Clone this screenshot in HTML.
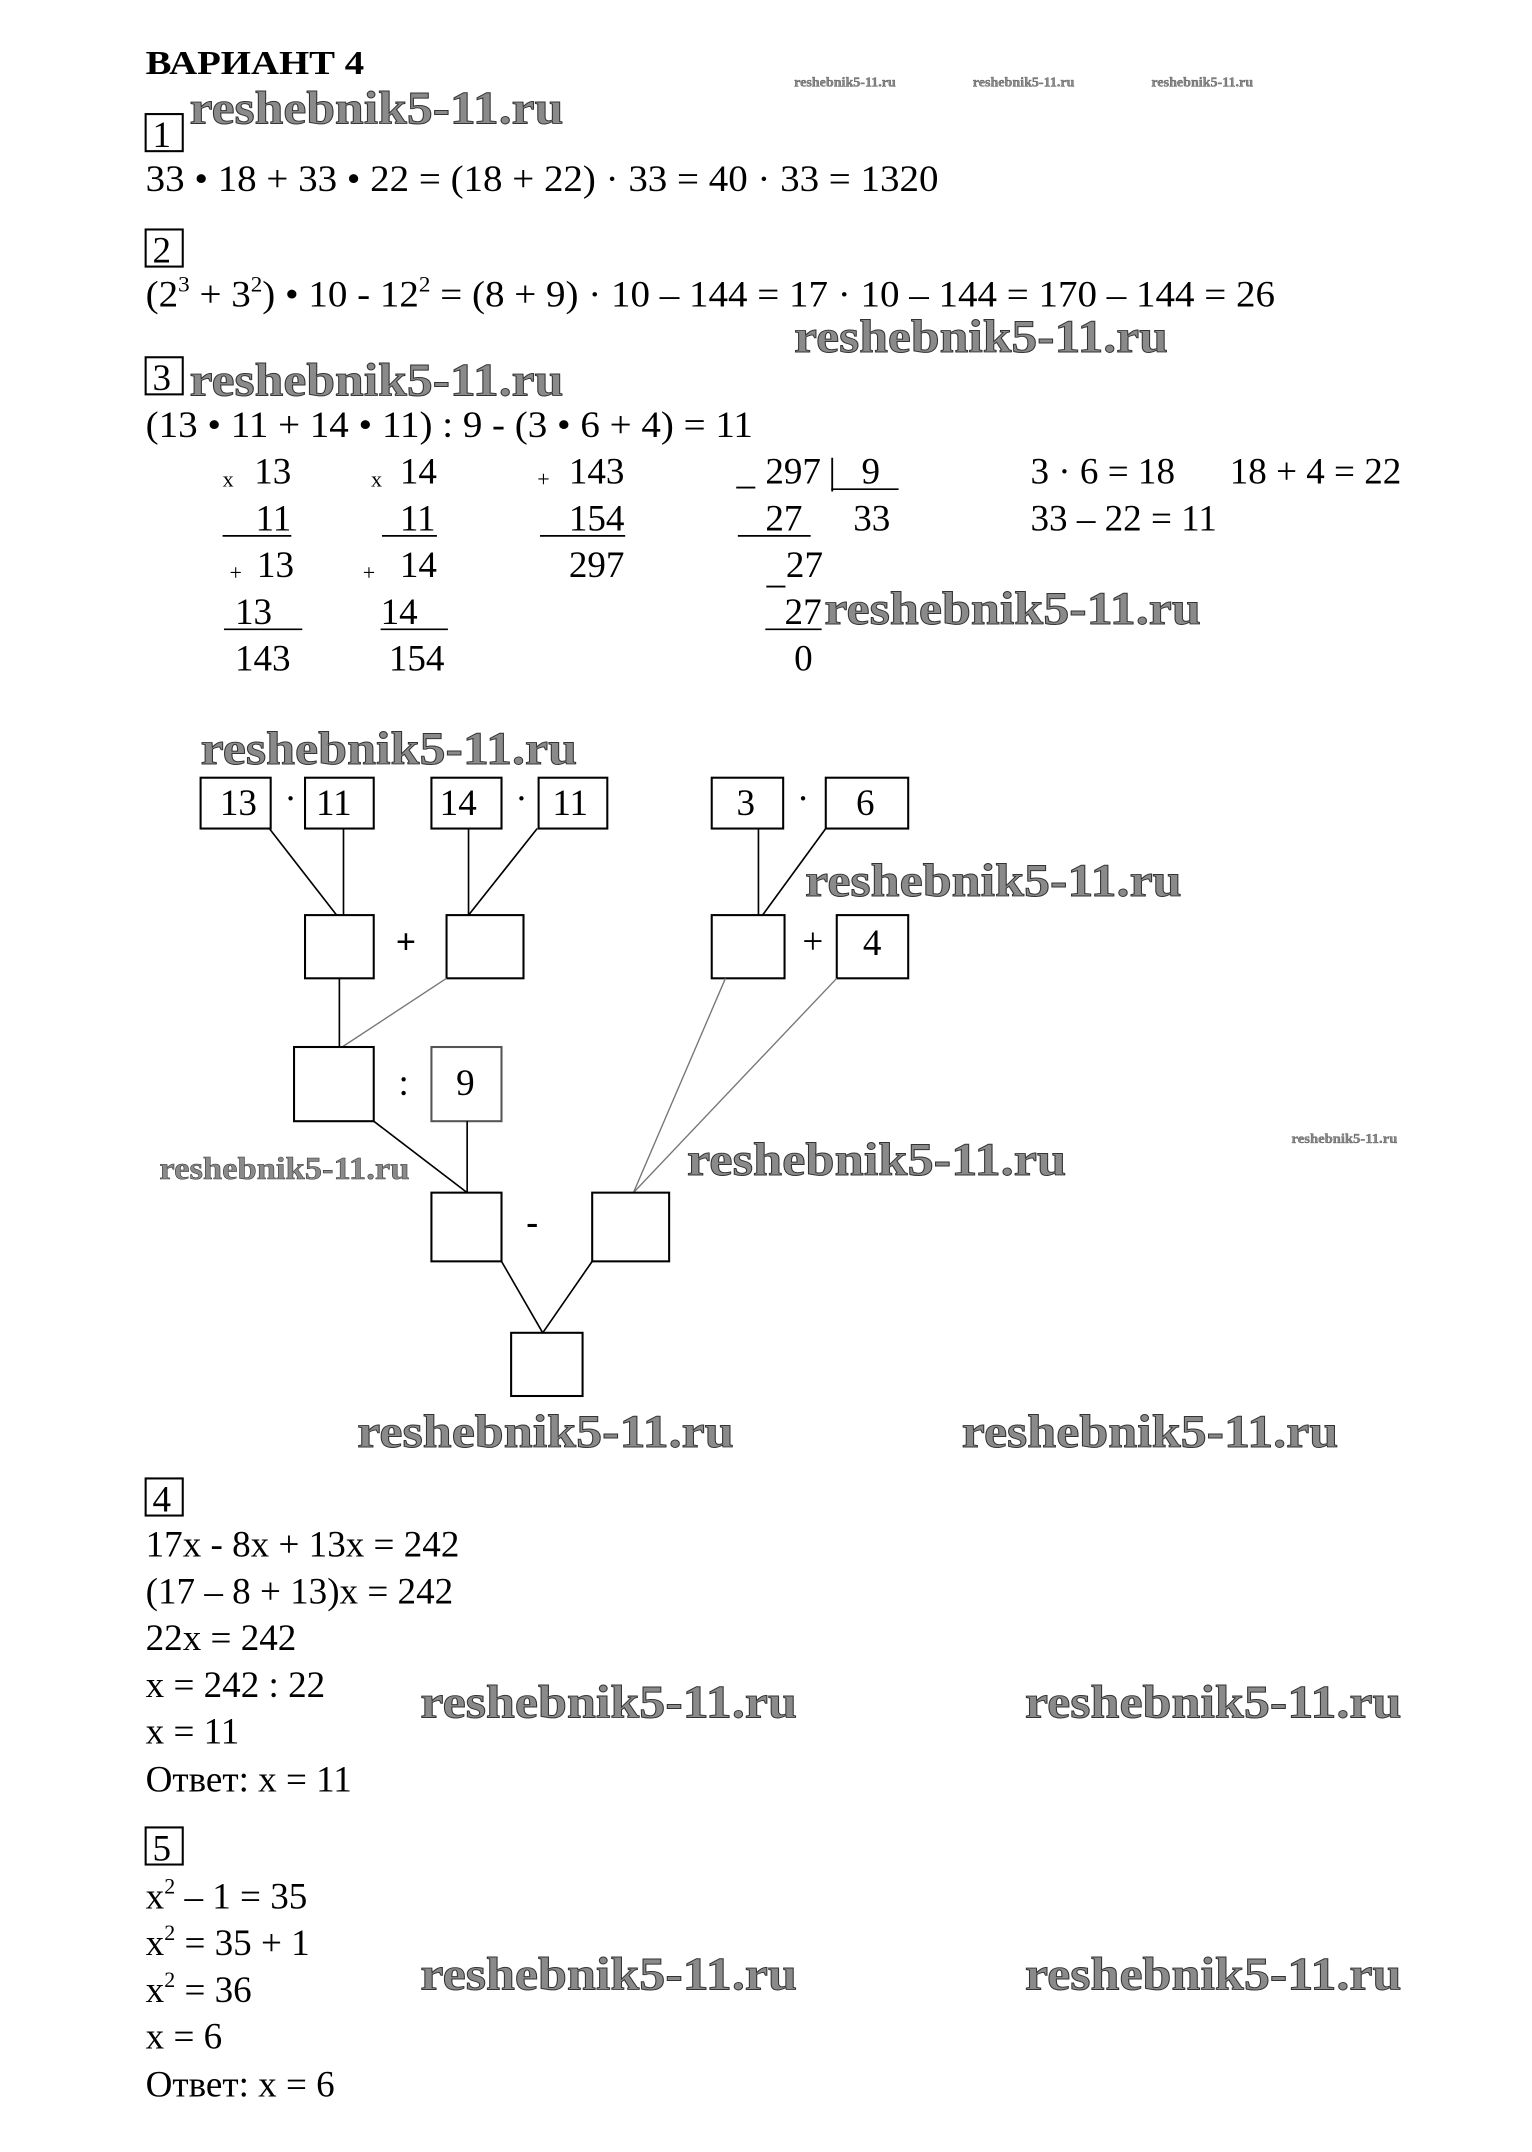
<!DOCTYPE html>
<html><head><meta charset="utf-8"><style>
html,body{margin:0;padding:0;background:#fff;}
svg{display:block;}
text{font-family:"Liberation Serif",serif;fill:#000;}
.t{font-size:27px;}
.s{font-size:16px;}
.w{font-family:"Liberation Serif",serif;font-weight:bold;fill:#8a8a8a;stroke:#333;stroke-width:0.7px;}
.b{fill:none;stroke:#000;stroke-width:1.5;}
.l{stroke:#000;stroke-width:1.2;}
.g{stroke:#777;stroke-width:1;}
</style></head><body>
<svg width="1532" height="2152" viewBox="0 0 1115 1566.2" xmlns="http://www.w3.org/2000/svg">
<text x="106" y="54" font-size="25" font-weight="bold" textLength="159" lengthAdjust="spacingAndGlyphs">ВАРИАНТ 4</text>
<text class="w" x="578" y="63" font-size="10" textLength="74" lengthAdjust="spacingAndGlyphs" style="stroke-width:0.2">reshebnik5-11.ru</text>
<text class="w" x="708" y="63" font-size="10" textLength="74" lengthAdjust="spacingAndGlyphs" style="stroke-width:0.2">reshebnik5-11.ru</text>
<text class="w" x="838" y="63" font-size="10" textLength="74" lengthAdjust="spacingAndGlyphs" style="stroke-width:0.2">reshebnik5-11.ru</text>
<text class="w" x="940" y="832" font-size="10" textLength="77" lengthAdjust="spacingAndGlyphs" style="stroke-width:0.2">reshebnik5-11.ru</text>
<rect class="b" x="106" y="83" width="27" height="27"/>
<text class="t" x="111" y="107">1</text>
<text class="w" x="138" y="90" font-size="34" textLength="272" lengthAdjust="spacingAndGlyphs">reshebnik5-11.ru</text>
<text class="t" x="106" y="139" textLength="577" lengthAdjust="spacingAndGlyphs">33 • 18 + 33 • 22 = (18 + 22) · 33 = 40 · 33 = 1320</text>
<rect class="b" x="106" y="167" width="27" height="27"/>
<text class="t" x="111" y="191">2</text>
<text class="t" x="106" y="223" textLength="822" lengthAdjust="spacingAndGlyphs">(2<tspan font-size="16" dy="-11">3</tspan><tspan dy="11"> + 3</tspan><tspan font-size="16" dy="-11">2</tspan><tspan dy="11">) • 10 - 12</tspan><tspan font-size="16" dy="-11">2</tspan><tspan dy="11"> = (8 + 9) · 10 – 144 = 17 · 10 – 144 = 170 – 144 = 26</tspan></text>
<text class="w" x="578" y="256" font-size="34" textLength="272" lengthAdjust="spacingAndGlyphs">reshebnik5-11.ru</text>
<rect class="b" x="106" y="260" width="27" height="27"/>
<text class="t" x="111" y="284">3</text>
<text class="w" x="138" y="288" font-size="34" textLength="272" lengthAdjust="spacingAndGlyphs">reshebnik5-11.ru</text>
<text class="t" x="106" y="318" textLength="442" lengthAdjust="spacingAndGlyphs">(13 • 11 + 14 • 11) : 9 - (3 • 6 + 4) = 11</text>
<text class="s" x="162" y="354">x</text><text class="t" x="185" y="352">13</text>
<text class="s" x="270" y="354">x</text><text class="t" x="291" y="352">14</text>
<text class="s" x="391" y="354">+</text><text class="t" x="414" y="352">143</text>
<text class="t" x="536" y="352">_</text><text class="t" x="557" y="352">297</text>
<text class="t" x="603" y="352">|</text><text class="t" x="627" y="352">9</text>
<line class="l" x1="605" y1="356" x2="654" y2="356"/>
<text class="t" x="750" y="352">3 · 6 = 18</text>
<text class="t" x="895" y="352">18 + 4 = 22</text>
<text class="t" x="186" y="386">11</text><line class="l" x1="162" y1="390" x2="212" y2="390"/>
<text class="t" x="291" y="386">11</text><line class="l" x1="278" y1="390" x2="318" y2="390"/>
<text class="t" x="414" y="386">154</text><line class="l" x1="393" y1="390" x2="455" y2="390"/>
<text class="t" x="557" y="386">27</text><line class="l" x1="537" y1="390" x2="590" y2="390"/>
<text class="t" x="621" y="386">33</text>
<text class="t" x="750" y="386">33 – 22 = 11</text>
<text class="s" x="167" y="422">+</text><text class="t" x="187" y="420">13</text>
<text class="s" x="264" y="422">+</text><text class="t" x="291" y="420">14</text>
<text class="t" x="414" y="420">297</text>
<text class="t" x="558" y="424">_</text><text class="t" x="572" y="420">27</text>
<text class="t" x="171" y="454">13</text><line class="l" x1="163" y1="458" x2="220" y2="458"/>
<text class="t" x="277" y="454">14</text><line class="l" x1="277" y1="458" x2="326" y2="458"/>
<text class="t" x="571" y="454">27</text><line class="l" x1="557" y1="458" x2="598" y2="458"/>
<text class="w" x="600" y="454" font-size="34" textLength="274" lengthAdjust="spacingAndGlyphs">reshebnik5-11.ru</text>
<text class="t" x="171" y="488">143</text>
<text class="t" x="283" y="488">154</text>
<text class="t" x="578" y="488">0</text>
<text class="w" x="146" y="556" font-size="34" textLength="274" lengthAdjust="spacingAndGlyphs">reshebnik5-11.ru</text>
<rect class="b" x="146" y="566" width="51" height="37"/><text class="t" x="160" y="593">13</text>
<text class="t" x="207" y="590">·</text>
<rect class="b" x="222" y="566" width="50" height="37"/><text class="t" x="230" y="593">11</text>
<rect class="b" x="314" y="566" width="51" height="37"/><text class="t" x="320" y="593">14</text>
<text class="t" x="375" y="590">·</text>
<rect class="b" x="392" y="566" width="50" height="37"/><text class="t" x="402" y="593">11</text>
<rect class="b" x="518" y="566" width="52" height="37"/><text class="t" x="536" y="593">3</text>
<text class="t" x="580" y="590">·</text>
<rect class="b" x="601" y="566" width="60" height="37"/><text class="t" x="623" y="593">6</text>
<text class="w" x="586" y="652" font-size="34" textLength="274" lengthAdjust="spacingAndGlyphs">reshebnik5-11.ru</text>
<line class="l" x1="196" y1="603" x2="245" y2="666"/>
<line class="l" x1="250" y1="603" x2="250" y2="666"/>
<line class="l" x1="341" y1="603" x2="341" y2="666"/>
<line class="l" x1="391" y1="603" x2="341" y2="666"/>
<line class="l" x1="552" y1="603" x2="552" y2="666"/>
<line class="l" x1="601" y1="603" x2="555" y2="666"/>
<rect class="b" x="222" y="666" width="50" height="46"/>
<text x="288" y="694" font-size="26" font-weight="bold">+</text>
<rect class="b" x="325" y="666" width="56" height="46"/>
<rect class="b" x="518" y="666" width="53" height="46"/>
<text class="t" x="584" y="694">+</text>
<rect class="b" x="609" y="666" width="52" height="46"/><text class="t" x="628" y="695">4</text>
<line class="l" x1="247" y1="712" x2="247" y2="762"/>
<line class="g" x1="325" y1="712" x2="249" y2="762"/>
<line class="g" x1="528" y1="712" x2="461" y2="868"/>
<line class="g" x1="609" y1="712" x2="461" y2="868"/>
<rect class="b" x="214" y="762" width="58" height="54"/>
<text class="t" x="290" y="797">:</text>
<rect class="b" x="314" y="762" width="51" height="54" style="stroke:#555"/><text class="t" x="332" y="797">9</text>
<line class="l" x1="272" y1="816" x2="340" y2="868"/>
<line class="l" x1="340" y1="816" x2="340" y2="868"/>
<text class="w" x="116" y="858" font-size="23" textLength="182" lengthAdjust="spacingAndGlyphs" style="stroke-width:0.4">reshebnik5-11.ru</text>
<text class="w" x="500" y="855" font-size="34" textLength="276" lengthAdjust="spacingAndGlyphs">reshebnik5-11.ru</text>
<rect class="b" x="314" y="868" width="51" height="50"/>
<text x="383" y="898" font-size="26" font-weight="bold">-</text>
<rect class="b" x="431" y="868" width="56" height="50"/>
<line class="l" x1="365" y1="918" x2="395" y2="970"/>
<line class="l" x1="431" y1="918" x2="395" y2="970"/>
<rect class="b" x="372" y="970" width="52" height="46"/>
<text class="w" x="260" y="1053" font-size="34" textLength="274" lengthAdjust="spacingAndGlyphs">reshebnik5-11.ru</text>
<text class="w" x="700" y="1053" font-size="34" textLength="274" lengthAdjust="spacingAndGlyphs">reshebnik5-11.ru</text>
<rect class="b" x="106" y="1076" width="27" height="27"/>
<text class="t" x="111" y="1100">4</text>
<text class="t" x="106" y="1133">17x - 8x + 13x = 242</text>
<text class="t" x="106" y="1167">(17 – 8 + 13)x = 242</text>
<text class="t" x="106" y="1201">22x = 242</text>
<text class="t" x="106" y="1235">x = 242 : 22</text>
<text class="t" x="106" y="1269">x = 11</text>
<text class="t" x="106" y="1304">Ответ: x = 11</text>
<text class="w" x="306" y="1250" font-size="34" textLength="274" lengthAdjust="spacingAndGlyphs">reshebnik5-11.ru</text>
<text class="w" x="746" y="1250" font-size="34" textLength="274" lengthAdjust="spacingAndGlyphs">reshebnik5-11.ru</text>
<rect class="b" x="106" y="1330" width="27" height="27"/>
<text class="t" x="111" y="1354">5</text>
<text class="t" x="106" y="1389">x<tspan font-size="16" dy="-11">2</tspan><tspan dy="11"> – 1 = 35</tspan></text>
<text class="t" x="106" y="1423">x<tspan font-size="16" dy="-11">2</tspan><tspan dy="11"> = 35 + 1</tspan></text>
<text class="t" x="106" y="1457">x<tspan font-size="16" dy="-11">2</tspan><tspan dy="11"> = 36</tspan></text>
<text class="t" x="106" y="1491">x = 6</text>
<text class="t" x="106" y="1526">Ответ: x = 6</text>
<text class="w" x="306" y="1448" font-size="34" textLength="274" lengthAdjust="spacingAndGlyphs">reshebnik5-11.ru</text>
<text class="w" x="746" y="1448" font-size="34" textLength="274" lengthAdjust="spacingAndGlyphs">reshebnik5-11.ru</text>
</svg>
</body></html>
